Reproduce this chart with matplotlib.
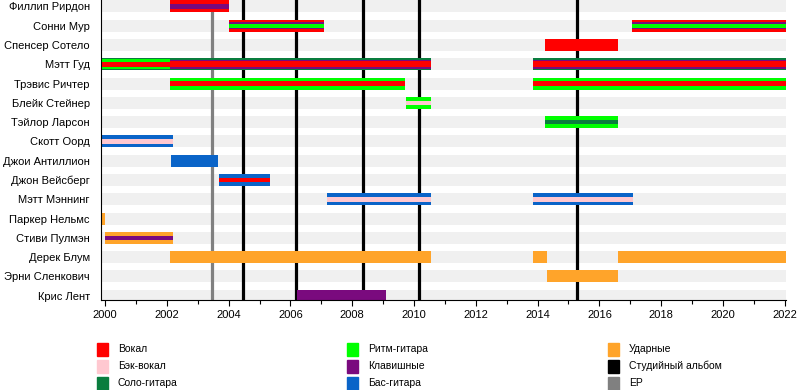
import matplotlib
matplotlib.use("Agg")
import matplotlib.pyplot as plt
from matplotlib.patches import Rectangle

plt.rcParams['font.family'] = ['Liberation Sans', 'DejaVu Sans']

# участники сверху вниз
members = ['Филлип Рирдон', 'Сонни Мур', 'Спенсер Сотело', 'Мэтт Гуд',
           'Трэвис Ричтер', 'Блейк Стейнер', 'Тэйлор Ларсон', 'Скотт Оорд',
           'Джои Антиллион', 'Джон Вейсберг', 'Мэтт Мэннинг', 'Паркер Нельмс',
           'Стиви Пулмэн', 'Дерек Блум', 'Эрни Сленкович', 'Крис Лент']

# роли и цвета
roles = ['vocal', 'backing', 'lead', 'rhythm', 'keys', 'bass', 'drums']
role_labels = ['Вокал', 'Бэк-вокал', 'Соло-гитара', 'Ритм-гитара',
               'Клавишные', 'Бас-гитара', 'Ударные']
role_colors = ['#ff0000', '#ffc8d0', '#0a7d3e', '#00ff00',
               '#7a0a7e', '#0a64c8', '#ffa42a']

# периоды: участник, начало, конец, роли (внешняя -> внутренняя)
periods = [
    ('Филлип Рирдон', 2002.1, 2004.0, ['vocal', 'keys']),
    ('Сонни Мур', 2004.0, 2007.1, ['vocal', 'keys', 'rhythm']),
    ('Сонни Мур', 2017.05, 2022.1, ['vocal', 'keys', 'rhythm']),
    ('Спенсер Сотело', 2014.25, 2016.6, ['vocal']),
    ('Мэтт Гуд', 1999.85, 2002.1, ['lead', 'rhythm', 'vocal']),
    ('Мэтт Гуд', 2002.1, 2010.55, ['lead', 'keys', 'vocal']),
    ('Мэтт Гуд', 2013.85, 2022.1, ['lead', 'keys', 'vocal']),
    ('Трэвис Ричтер', 2002.1, 2009.7, ['rhythm', 'vocal']),
    ('Трэвис Ричтер', 2013.85, 2022.1, ['rhythm', 'vocal']),
    ('Блейк Стейнер', 2009.75, 2010.55, ['rhythm', 'backing']),
    ('Тэйлор Ларсон', 2014.25, 2016.6, ['rhythm', 'lead']),
    ('Скотт Оорд', 1999.85, 2002.2, ['bass', 'backing']),
    ('Джои Антиллион', 2002.15, 2003.65, ['bass']),
    ('Джон Вейсберг', 2003.7, 2005.35, ['bass', 'vocal']),
    ('Мэтт Мэннинг', 2007.2, 2010.55, ['bass', 'backing']),
    ('Мэтт Мэннинг', 2013.85, 2017.1, ['bass', 'backing']),
    ('Паркер Нельмс', 1999.85, 2000.0, ['drums']),
    ('Стиви Пулмэн', 2000.0, 2002.2, ['drums', 'keys']),
    ('Дерек Блум', 2002.1, 2010.55, ['drums']),
    ('Дерек Блум', 2013.85, 2014.3, ['drums']),
    ('Дерек Блум', 2016.6, 2022.1, ['drums']),
    ('Эрни Сленкович', 2014.3, 2016.6, ['drums']),
    ('Крис Лент', 2006.2, 2009.1, ['keys']),
]

# релизы
albums = [2004.47, 2006.18, 2008.35, 2010.16, 2015.27]
eps = [2003.46]

color_of = dict(zip(roles, role_colors))
row_of = {m: i for i, m in enumerate(members)}

fig = plt.figure(figsize=(8, 3.9), dpi=100)
ax = fig.add_axes([101 / 800, 1 - 300 / 390, 685 / 800, 300 / 390])

xmin, xmax = 1999.87, 2022.04
bar_h = 0.62

# фон строк
for i in range(len(members)):
    ax.barh(i, xmax - xmin, left=xmin, height=bar_h, color='#f0f0f0', zorder=0)

for x in albums:
    ax.axvline(x, color='black', lw=2.3, zorder=1)
for x in eps:
    ax.axvline(x, color='#808080', lw=2.3, zorder=1)

for m, s, e, rr in periods:
    if len(rr) == 1:
        hs = [bar_h]
    elif len(rr) == 2:
        hs = [bar_h, 0.24]
    elif rr[1] == 'keys' and rr[0] == 'lead':
        hs = [bar_h, 0.48, 0.32]
    elif rr[0] == 'lead':
        hs = [bar_h, 0.5, 0.25]
    else:
        hs = [bar_h, 0.36, 0.2]
    for r, h in zip(rr, hs):
        ax.barh(row_of[m], e - s, left=s, height=h, color=color_of[r],
                zorder=2, linewidth=0)

ax.set_xlim(xmin, xmax)
ax.set_ylim(15.22, -0.33)
ax.set_yticks(range(len(members)))
ax.set_yticklabels(members, fontsize=8)
ax.tick_params(axis='y', length=0, pad=8)
ax.set_xticks(range(2000, 2023, 2))
ax.set_xticks(range(2000, 2023), minor=True)
ax.tick_params(axis='x', labelsize=8, length=4, width=0.8)
ax.tick_params(axis='x', which='minor', length=3, width=0.8)
for sp in ['top', 'right']:
    ax.spines[sp].set_visible(False)

# легенда
legend_items = list(zip(role_labels, role_colors)) + [
    ('Студийный альбом', 'black'), ('EP', '#808080')]
col_x = [97, 347, 608]
row_y = [349, 366, 383]
for k, (lab, c) in enumerate(legend_items):
    col, row = k // 3, k % 3
    x0, y0 = col_x[col], row_y[row]
    fig.add_artist(Rectangle((x0 / 800, 1 - (y0 + 6.5) / 390), 11 / 800, 13 / 390,
                             transform=fig.transFigure, color=c))
    fig.text((x0 + 21) / 800, 1 - y0 / 390, lab, fontsize=7.5, va='center')

fig.savefig('out.png', dpi=100)
